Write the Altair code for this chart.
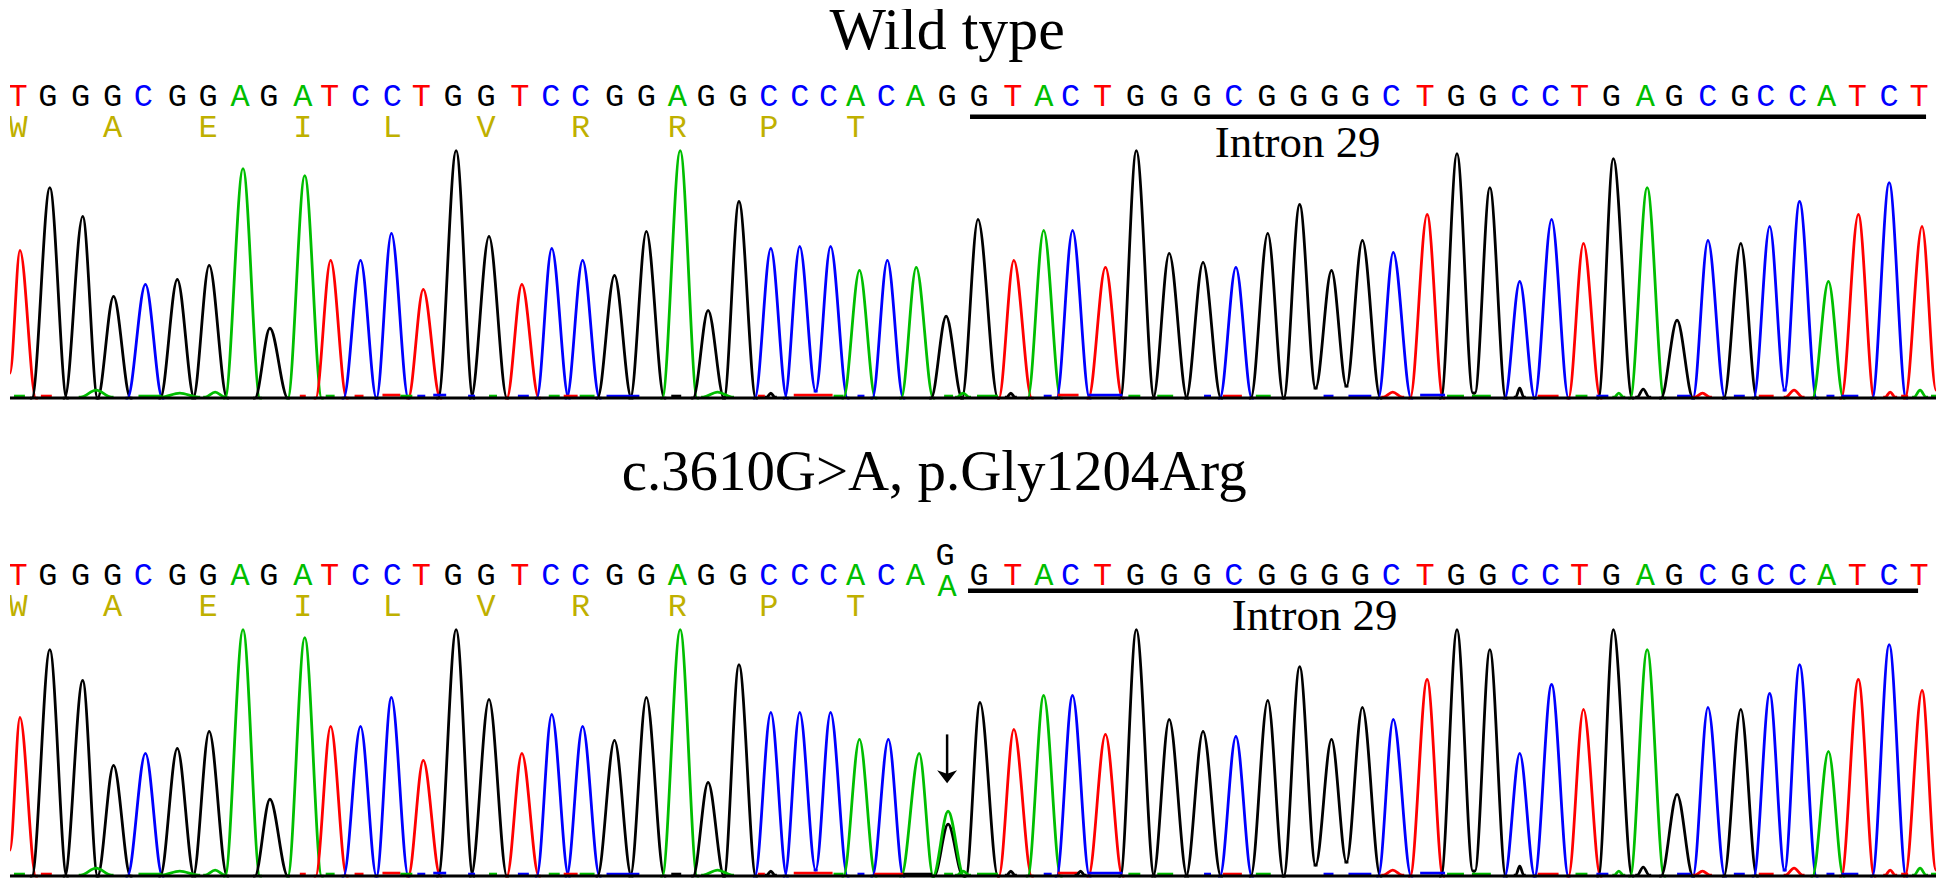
import altair as alt
import pandas as pd

# ---- sequence ------------------------------------------------------------
BASES = list("TGGGCGGAGATCCTGGTCCGGAGGCCCACAGGTACTGGGCGGGGCTGGCCTGAGCGCCATCT")
LETTER_X = [14, 44, 77, 109, 140, 174, 205, 237, 266, 300, 327, 358, 390, 419, 451, 484, 518,
            549, 579, 613, 645, 676, 705, 737, 768, 799, 828, 855, 886, 915, 947, 979, 1013,
            1044, 1071, 1103, 1136, 1170, 1203, 1235, 1268, 1300, 1331, 1362, 1393, 1427, 1458,
            1490, 1522, 1553, 1582, 1614, 1648, 1677, 1711, 1743, 1769, 1801, 1830, 1861, 1893, 1923]
AMINO = ["W", "A", "E", "I", "L", "V", "R", "R", "P", "T"]
AMINO_X = [14, 109, 205, 300, 390, 484, 579, 676, 768, 855]

# ---- peaks: feet, apex, height ------------------------------------------
LEFT = [6, 28, 61, 94, 124, 157, 190, 222, 252, 285, 313, 341, 374, 406, 436, 469, 505, 535, 565,
        596, 629, 661, 692, 723, 754, 784, 815, 843, 872, 901, 931, 962, 999, 1028, 1057, 1089,
        1121, 1154, 1187, 1221, 1252, 1285, 1317, 1348, 1380, 1412, 1443, 1477, 1507, 1537, 1571,
        1601, 1633, 1664, 1696, 1727, 1757, 1788, 1816, 1845, 1876, 1909]
APEX = [16, 46, 79, 110, 142, 174, 206, 240, 267, 302, 328, 358, 389, 421, 454, 487, 520, 550, 581,
        613, 645, 679, 707, 738, 770, 799, 830, 859, 887, 916, 946, 978, 1014, 1044, 1073, 1106,
        1137, 1170, 1204, 1237, 1269, 1301, 1333, 1364, 1395, 1429, 1459, 1492, 1522, 1554, 1586,
        1616, 1650, 1680, 1711, 1744, 1773, 1803, 1832, 1862, 1893, 1926]
RIGHT = [32, 63, 94, 127, 159, 191, 224, 257, 285, 319, 344, 374, 406, 438, 471, 505, 537, 567, 598,
         630, 663, 696, 723, 755, 786, 815, 847, 875, 903, 933, 962, 998, 1032, 1061, 1090, 1123,
         1155, 1188, 1222, 1253, 1285, 1317, 1348, 1382, 1413, 1445, 1475, 1508, 1537, 1571, 1603,
         1635, 1667, 1696, 1728, 1760, 1788, 1820, 1847, 1878, 1910, 1940]
# height of the trace at the left and right foot of a peak where it does not reach the baseline
WT_FOOT_L = {0: 25, 26: 7, 42: 10, 43: 12, 47: 5, 57: 8}
WT_FOOT_R = {25: 7, 41: 10, 42: 12, 46: 5, 56: 8, 61: 8}
WT_H = [148, 211, 182, 102, 114, 119, 133, 230, 70, 223, 138, 138, 165, 109, 248, 162, 114, 150,
        138, 123, 167, 248, 88, 197, 150, 152, 152, 128, 138, 131, 82, 179, 138, 168, 168, 131,
        248, 145, 136, 131, 165, 194, 128, 158, 146, 184, 245, 211, 117, 179, 155, 240, 211, 78,
        158, 155, 172, 197, 117, 184, 216, 172]
MUT_H = [159, 227, 196, 111, 123, 128, 145, 247, 77, 239, 150, 150, 179, 116, 247, 177, 123, 162,
         150, 136, 179, 247, 94, 212, 164, 164, 164, 137, 137, 123, 65, 174, 147, 181, 181, 142,
         247, 157, 145, 140, 176, 210, 137, 169, 157, 197, 247, 227, 123, 192, 167, 247, 227, 82,
         169, 167, 183, 212, 125, 197, 232, 186]
MUT_FOOT_L = {0: 26, 26: 6, 42: 11, 43: 14, 47: 5, 57: 6}
MUT_FOOT_R = {25: 6, 41: 11, 42: 14, 46: 5, 56: 6, 61: 6}
# the heterozygous position: green A peak with a black G peak inside it
MUT_BASE_OVERRIDE = {30: "A"}
MUT_APEX_OVERRIDE = {28: 888, 29: 919, 30: 948, 31: 980}
MUT_LEFT_OVERRIDE = {30: 933, 31: 966}
MUT_RIGHT_OVERRIDE = {30: 964}
MUT_EXTRA_BASE = ["G"]
MUT_EXTRA = [(934, 948, 963, 52)]

# ---- low signal along the baseline ---------------------------------------
NOISE_BASE = ["G", "R", "G", "G", "G", "G", "R", "G", "R", "R", "G", "B", "B", "B", "G", "B", "G",
              "R", "G", "B", "K", "G", "R", "K", "R", "G", "B", "G", "G", "G", "K", "B", "R", "B",
              "G", "G", "B", "R", "G", "B", "B", "R", "B", "G", "G", "K", "R", "G", "B", "G", "K",
              "B", "R", "B", "R", "R", "B", "B", "R", "G", "R", "G"]
NOISE_X1 = [10, 37, 77, 135, 158, 202, 297, 323, 352, 380, 398, 415, 431, 466, 487, 516, 547, 562,
            578, 605, 670, 702, 757, 766, 793, 833, 857, 944, 957, 977, 1007, 1044, 1058, 1089,
            1129, 1158, 1205, 1224, 1257, 1325, 1350, 1385, 1422, 1449, 1474, 1518, 1540, 1578,
            1599, 1617, 1640, 1680, 1698, 1737, 1762, 1789, 1830, 1845, 1889, 1918, 1905, 1935]
NOISE_X2 = [21, 48, 108, 158, 195, 222, 303, 332, 361, 398, 410, 423, 444, 473, 495, 527, 558, 576,
            593, 638, 680, 731, 764, 774, 832, 843, 864, 953, 969, 998, 1015, 1052, 1079, 1123,
            1141, 1174, 1212, 1243, 1272, 1335, 1373, 1404, 1447, 1466, 1493, 1526, 1561, 1590,
            1611, 1626, 1652, 1694, 1713, 1748, 1777, 1806, 1838, 1862, 1899, 1930, 1912, 1940]
NOISE_H = [2, 2, 8, 2, 5, 6, 2, 2, 2, 3, 2, 2, 3, 2, 2, 2, 2, 2, 2, 2, 2, 6, 2, 5, 3, 2, 2, 2, 5, 2,
           5, 2, 3, 3, 2, 2, 2, 2, 2, 2, 2, 6, 3, 2, 2, 10, 2, 2, 2, 5, 9, 2, 5, 2, 2, 8, 2, 2, 6,
           8, 2, 2]
MUT_EXTRA_NOISE_BASE = ["R", "K", "K"]
MUT_EXTRA_NOISE_X1 = [874, 903, 1077]
MUT_EXTRA_NOISE_X2 = [903, 932, 1085]
MUT_EXTRA_NOISE_H = [2, 2, 5]

TITLE_WT = "Wild type"
TITLE_MUT = "c.3610G>A, p.Gly1204Arg"
INTRON = "Intron 29"

BASE_COLORS = {"A": "#00BE00", "C": "#0000FF", "G": "#000000", "T": "#FF0000"}
NOISE_MAP = {"G": "A", "R": "T", "B": "C", "K": "G"}

X = alt.X("x:Q", axis=None, scale=alt.Scale(domain=[6, 1940], nice=False, zero=False))
COLOR = alt.Color("b:N", legend=None,
                  scale=alt.Scale(domain=list(BASE_COLORS), range=list(BASE_COLORS.values())))


def peak_rows(pid, base, l, a, r, h, hl=0, hr=0):
    return [
        {"id": pid, "o": 0, "b": base, "x": l - 2, "y": hl},
        {"id": pid, "o": 1, "b": base, "x": l, "y": hl},
        {"id": pid, "o": 2, "b": base, "x": a, "y": h},
        {"id": pid, "o": 3, "b": base, "x": r, "y": hr},
        {"id": pid, "o": 4, "b": base, "x": r + 2, "y": hr},
    ]


def panel(heights, foot_l, foot_r, y_dom, px_h, titles, bar, intron, letter_y, amino_y,
          base_over=None, apex_over=None, left_over=None, right_over=None, extra=None,
          extra_noise=None, letter_special=None, arrow=None):
    base_over, apex_over = base_over or {}, apex_over or {}
    left_over, right_over = left_over or {}, right_over or {}
    rows = []
    for j, (l, a, r, h) in enumerate(extra or []):
        rows += peak_rows(f"e{j}", MUT_EXTRA_BASE[j], l, a, r, h)
    for i, h in enumerate(heights):
        rows += peak_rows(f"p{i}", base_over.get(i, BASES[i]), left_over.get(i, LEFT[i]),
                          apex_over.get(i, APEX[i]), right_over.get(i, RIGHT[i]), h,
                          foot_l.get(i, 0), foot_r.get(i, 0))
    ex = extra_noise or ([], [], [], [])
    nb = list(NOISE_BASE) + list(ex[0])
    nx1 = list(NOISE_X1) + list(ex[1])
    nx2 = list(NOISE_X2) + list(ex[2])
    nh = list(NOISE_H) + list(ex[3])
    for k, (x1, x2, h, c) in enumerate(zip(nx1, nx2, nh, nb)):
        b = NOISE_MAP[c]
        if h <= 3:
            rows += [{"id": f"n{k}", "o": 0, "b": b, "x": x1, "y": h},
                     {"id": f"n{k}", "o": 1, "b": b, "x": x2, "y": h}]
        else:
            rows += peak_rows(f"n{k}", b, x1, (x1 + x2) / 2, x2, h, 1, 1)

    Y = alt.Y("y:Q", axis=None, scale=alt.Scale(domain=y_dom, nice=False, zero=False))
    lines = alt.Chart(pd.DataFrame(rows)).mark_line(
        interpolate="monotone", strokeWidth=2.8, clip=True
    ).encode(x=X, y=Y, color=COLOR, detail="id:N", order="o:Q")

    baseline = alt.Chart(pd.DataFrame({"x": [6], "x2": [1940], "y": [0]})).mark_rule(
        color="#000000", strokeWidth=3).encode(x=X, x2="x2:Q", y=Y)

    letters = pd.DataFrame({"x": LETTER_X, "y": letter_y, "b": BASES, "t": BASES})
    if letter_special:
        letters = letters[letters.index != letter_special["index"]]
        letters = pd.concat([letters, pd.DataFrame(letter_special["rows"])], ignore_index=True)
    letter_mark = alt.Chart(letters).mark_text(
        font="Liberation Mono", fontSize=32, baseline="alphabetic", align="center", clip=True
    ).encode(x=X, y=Y, text="t:N", color=COLOR)

    aa = alt.Chart(pd.DataFrame({"x": AMINO_X, "y": amino_y, "t": AMINO})).mark_text(
        font="Liberation Mono", fontSize=32, baseline="alphabetic", align="center",
        color="#BFB000", clip=True).encode(x=X, y=Y, text="t:N")

    bar_mark = alt.Chart(pd.DataFrame([bar])).mark_rule(color="#000000", strokeWidth=4.5).encode(
        x=X, x2="x2:Q", y=Y)

    title_mark = alt.Chart(pd.DataFrame([titles])).mark_text(
        font="Liberation Serif", fontSize=titles["s"], baseline="alphabetic", align="center",
        color="#000000", clip=True).encode(x=X, y=Y, text="t:N")
    intron_mark = alt.Chart(pd.DataFrame([intron])).mark_text(
        font="Liberation Serif", fontSize=45, baseline="alphabetic", align="center",
        color="#000000", clip=True).encode(x=X, y=Y, text="t:N")

    layers = [lines, baseline, letter_mark, aa, bar_mark, title_mark, intron_mark]
    if arrow:
        layers.append(alt.Chart(pd.DataFrame([arrow])).mark_rule(
            color="#000000", strokeWidth=2.5).encode(x=X, y=Y, y2="y2:Q"))
        layers.append(alt.Chart(pd.DataFrame([arrow])).mark_point(
            shape="M-1,-0.6L0,0.7L1,-0.6L0,-0.25Z", size=400, filled=True, opacity=1,
            color="#000000").encode(x=X, y=alt.Y("y2:Q", axis=None,
                                                 scale=alt.Scale(domain=y_dom, nice=False, zero=False))))
    return alt.layer(*layers).properties(width=1930, height=px_h)


top = panel(
    WT_H, WT_FOOT_L, WT_FOOT_R, [-2, 390], 392,
    {"x": 947, "y": 350, "t": TITLE_WT, "s": 60},
    {"x": 970, "x2": 1930, "y": 282},
    {"x": 1299, "y": 242, "t": INTRON},
    293, 262,
)
bottom = panel(
    MUT_H, MUT_FOOT_L, MUT_FOOT_R, [-4, 477], 481,
    {"x": 934, "y": 387, "t": TITLE_MUT, "s": 57},
    {"x": 968, "x2": 1922, "y": 286},
    {"x": 1316, "y": 247, "t": INTRON},
    292, 261,
    base_over=MUT_BASE_OVERRIDE, apex_over=MUT_APEX_OVERRIDE, left_over=MUT_LEFT_OVERRIDE,
    right_over=MUT_RIGHT_OVERRIDE, extra=MUT_EXTRA,
    extra_noise=(MUT_EXTRA_NOISE_BASE, MUT_EXTRA_NOISE_X1, MUT_EXTRA_NOISE_X2, MUT_EXTRA_NOISE_H),
    letter_special={"index": 30, "rows": [
        {"x": 945, "y": 312, "b": "G", "t": "G"},
        {"x": 947, "y": 281, "b": "A", "t": "A"},
    ]},
    arrow={"x": 947, "y": 142, "y2": 100},
)

chart = alt.vconcat(top, bottom, spacing=0, bounds="flush").properties(
    padding=0, background="white"
).configure_view(stroke=None)

chart.save("out.html", embed_options={"renderer": "svg", "actions": False})
